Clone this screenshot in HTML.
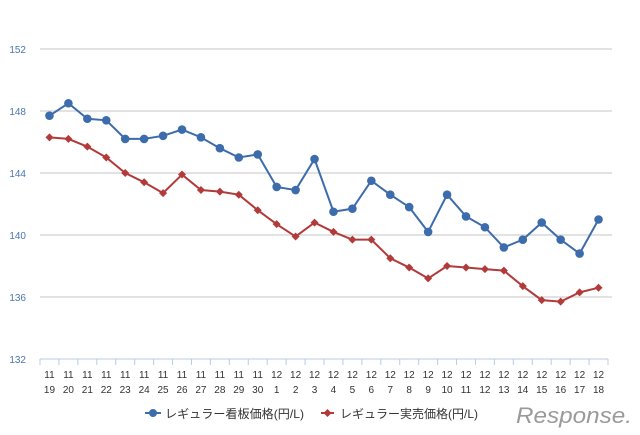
<!DOCTYPE html>
<html><head><meta charset="utf-8"><style>
body{margin:0;background:#fff}
svg{display:block;font-family:"Liberation Sans","Noto Sans CJK JP",sans-serif}
</style></head><body>
<svg id="chart" width="640" height="435" viewBox="0 0 640 435" xmlns="http://www.w3.org/2000/svg">
<g id="grid"></g>
<g id="yax"></g>
<g id="xax"></g>
<g id="series"></g>
<g>
 <g>
  <line x1="145" y1="413" x2="161" y2="413" stroke="#3c6cab" stroke-width="2"/>
  <circle cx="153" cy="413" r="4" fill="#3c6cab"/>
  <text x="165" y="418" font-size="12" fill="#333" textLength="139" lengthAdjust="spacingAndGlyphs">レギュラー看板価格(円/L)</text>
 </g>
 <g>
  <line x1="321" y1="413" x2="334" y2="413" stroke="#b23a3a" stroke-width="2"/>
  <path d="M327.5 409 L331.5 413 L327.5 417 L323.5 413Z" fill="#b23a3a"/>
  <text x="340" y="418" font-size="12" fill="#333" textLength="138" lengthAdjust="spacingAndGlyphs">レギュラー実売価格(円/L)</text>
 </g>
</g>
<text x="516" y="423" font-size="22" fill="#9a9a9a" font-style="italic" textLength="116" lengthAdjust="spacingAndGlyphs">Response.</text>
</svg>
<script>
const months=[11,11,11,11,11,11,11,11,11,11,11,11,12,12,12,12,12,12,12,12,12,12,12,12,12,12,12,12,12,12];
const days=[19,20,21,22,23,24,25,26,27,28,29,30,1,2,3,4,5,6,7,8,9,10,11,12,13,14,15,16,17,18];
const boardPrice=[147.7,148.5,147.5,147.4,146.2,146.2,146.4,146.8,146.3,145.6,145.0,145.2,143.1,142.9,144.9,141.5,141.7,143.5,142.6,141.8,140.2,142.6,141.2,140.5,139.2,139.7,140.8,139.7,138.8,141.0];
const actualPrice=[146.3,146.2,145.7,145.0,144.0,143.4,142.7,143.9,142.9,142.8,142.6,141.6,140.7,139.9,140.8,140.2,139.7,139.7,138.5,137.9,137.2,138.0,137.9,137.8,137.7,136.7,135.8,135.7,136.3,136.6];
const yTicks=[132,136,140,144,148,152];
const NS="http://www.w3.org/2000/svg";
const L=40,R=608,T=49,B=359,ymin=132,ymax=152;
const step=(R-L)/days.length;
const xs=i=>L+step*(i+0.5);
const ys=v=>B-(v-ymin)/(ymax-ymin)*(B-T);
function mk(tag,attrs,parent){const e=document.createElementNS(NS,tag);for(const k in attrs)e.setAttribute(k,attrs[k]);parent.appendChild(e);return e;}
const grid=document.getElementById('grid'),yax=document.getElementById('yax'),xax=document.getElementById('xax'),ser=document.getElementById('series');
yTicks.forEach(v=>{
 if(v>ymin){const g=mk('line',{x1:L,x2:R+4,y1:ys(v),y2:ys(v),stroke:'#d9d9d9','stroke-width':1.5},grid);
 
 }
 const t=mk('text',{x:26,y:ys(v)+4,'font-size':10,fill:'#4a76b0','text-anchor':'end'},yax);
 t.textContent=v;
 
 
});
const ax=mk('line',{x1:L,x2:R,y1:B,y2:B,stroke:'#b8cce4','stroke-width':1},xax);


for(let i=0;i<=days.length;i++){mk('line',{x1:L+step*i,x2:L+step*i,y1:B,y2:B+6,stroke:'#b8cce4'},xax);}
days.forEach((d,i)=>{
 const t1=mk('text',{x:xs(i),y:378,'font-size':10,fill:'#333','text-anchor':'middle'},xax);
 t1.textContent=months[i];
 
 
 const t2=mk('text',{x:xs(i),y:393,'font-size':10,fill:'#333','text-anchor':'middle'},xax);
 t2.textContent=d;
 
 
});
function drawSeries(vals,color,shape,name){
 const g=mk('g',{},ser);
 
 
 const p=mk('polyline',{points:vals.map((v,i)=>xs(i)+','+ys(v)).join(' '),fill:'none',stroke:color,'stroke-width':2},g);
 
 
 vals.forEach((v,i)=>{
  const x=xs(i),y=ys(v);let m;
  if(shape==='circle')m=mk('circle',{cx:x,cy:y,r:4.3,fill:color},g);
  else m=mk('path',{d:`M${x} ${y-4}L${x+4} ${y}L${x} ${y+4}L${x-4} ${y}Z`,fill:color},g);
  
  
 });
}
drawSeries(actualPrice,'#b23a3a','diamond','actual-price-series');
drawSeries(boardPrice,'#3c6cab','circle','board-price-series');
</script>
</body></html>
